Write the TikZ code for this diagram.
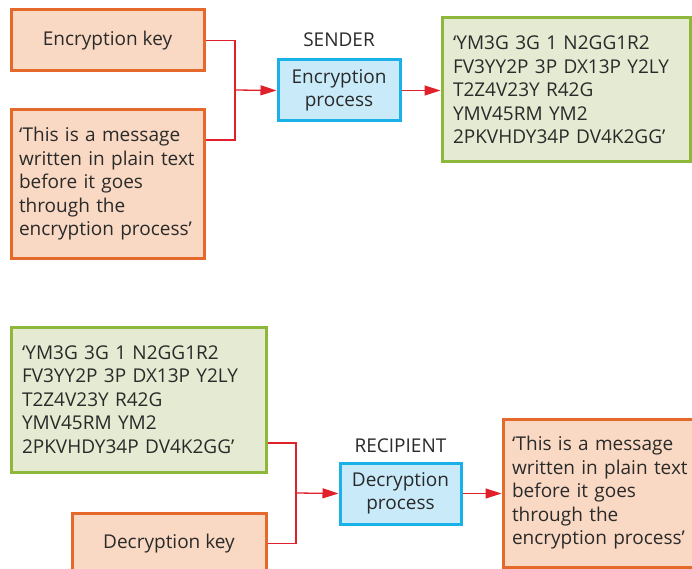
\documentclass[tikz,border=0pt]{standalone}
\usepackage{fontspec}
\setmainfont{Open Sans}
\usetikzlibrary{arrows.meta}
\definecolor{obord}{HTML}{E5692A}
\definecolor{ofill}{HTML}{F9D9C3}
\definecolor{gbord}{HTML}{8DB83C}
\definecolor{gfill}{HTML}{E5EBD2}
\definecolor{bbord}{HTML}{1AB0E8}
\definecolor{bfill}{HTML}{C8EAF9}
\definecolor{conn}{HTML}{E0202A}
\definecolor{txt}{HTML}{2A2A2A}
\begin{document}
\begin{tikzpicture}[x=1pt,y=-1pt,
  every node/.style={font=\fontsize{19}{23.5}\selectfont, text=txt, inner sep=0pt, outer sep=0pt},
  obox/.style={draw=obord, fill=ofill, line width=3pt, outer sep=1.5pt},
  gbox/.style={draw=gbord, fill=gfill, line width=3pt, outer sep=1.5pt},
  pbox/.style={draw=bbord, fill=bfill, line width=3pt, outer sep=1.5pt, align=center},
  link/.style={draw=conn, line width=1.3pt},
  arr/.style={link, -{Triangle[length=16pt,width=10pt]}},
]
\path[use as bounding box] (0,0) rectangle (692,569);
\clip (0,0) rectangle (692,569);

% ---------- sender ----------
\node[obox, minimum width=193pt, minimum height=61pt] (key) at (107.5,40.5) {Encryption key};
\node[obox, text width=177pt, inner xsep=8pt, minimum height=148pt, align=left] (plain) at (107.5,184)
  {\mbox{‘This is a message}\\\mbox{written in plain text}\\\mbox{before it goes}\\\mbox{through the}\\\mbox{encryption process’}};
\node (sender) at (339,40) {SENDER};
\node[pbox, minimum width=122pt, minimum height=61pt] (enc) at (339,90.5) {Encryption\\process};
\node[gbox, text width=226pt, inner xsep=11pt, minimum height=144pt, align=left] (cipher) at (566,90)
  {\mbox{‘YM3G 3G 1 N2GG1R2}\\\mbox{FV3YY2P 3P DX13P Y2LY}\\\mbox{T2Z4V23Y R42G}\\\mbox{YMV45RM YM2}\\\mbox{2PKVHDY34P DV4K2GG’}};

\coordinate (j1) at (235,90);
\coordinate (t1) at (0,140);
\draw[link] (key.east) -| (j1);
\draw[link] (plain.east |- t1) -| (j1);
\draw[arr] (j1) -- (enc.west);
\draw[arr] (enc.east) -- (enc.east -| cipher.west);

% ---------- recipient ----------
\node[gbox, text width=233pt, inner xsep=11pt, minimum height=145pt, align=left] (cipher2) at (138.5,399.5)
  {\mbox{‘YM3G 3G 1 N2GG1R2}\\\mbox{FV3YY2P 3P DX13P Y2LY}\\\mbox{T2Z4V23Y R42G}\\\mbox{YMV45RM YM2}\\\mbox{2PKVHDY34P DV4K2GG’}};
\node[obox, minimum width=194pt, minimum height=61pt] (dkey) at (169,543.5) {Decryption key};
\node (recip) at (400.5,446) {RECIPIENT};
\node[pbox, minimum width=121pt, minimum height=61pt] (dec) at (400.5,493.5) {Decryption\\process};
\node[obox, text width=201pt, inner xsep=9pt, minimum height=148pt, align=left] (plain2) at (612.5,493)
  {\mbox{‘This is a message}\\\mbox{written in plain text}\\\mbox{before it goes}\\\mbox{through the}\\\mbox{encryption process’}};

\coordinate (j2) at (296,493);
\coordinate (t2) at (0,443);
\draw[link] (cipher2.east |- t2) -| (j2);
\draw[link] (dkey.east) -| (j2);
\draw[arr] (j2) -- (dec.west);
\draw[arr] (dec.east) -- (dec.east -| plain2.west);
\end{tikzpicture}
\end{document}
